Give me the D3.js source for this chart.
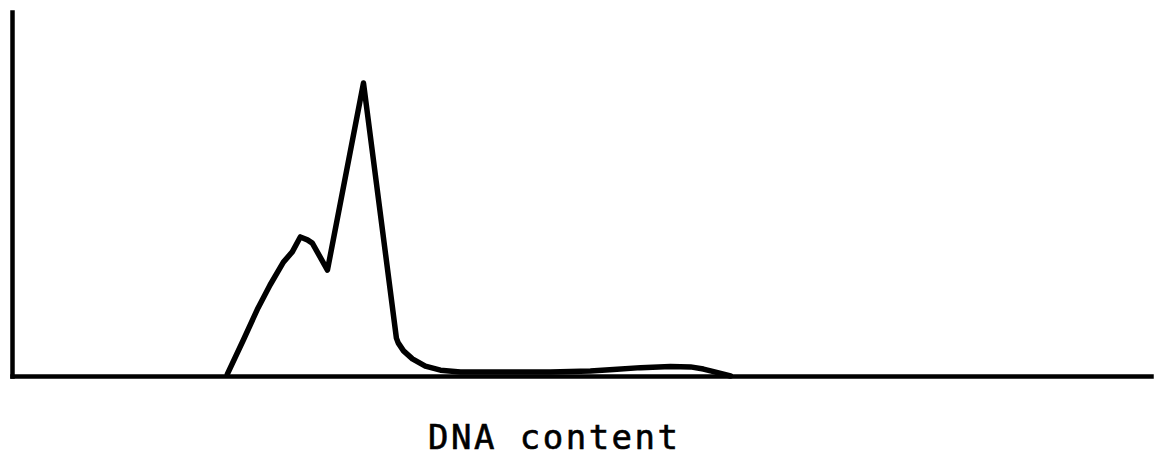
<!DOCTYPE html>
<html>
<head>
<meta charset="utf-8">
<script src="https://cdn.jsdelivr.net/npm/d3@7"></script>
<style>
  html, body { margin: 0; padding: 0; background: #fff; }
  svg { display: block; }
</style>
</head>
<body>
<svg id="chart" width="1162" height="464"></svg>
<script>
// DNA histogram: channel (x) vs relative cell count (y)
const channels = [48.4, 52.0, 55.3, 58.0, 61.0, 63.0, 64.8, 66.4, 67.5, 70.9, 79.0, 86.4, 86.8, 88.0, 90.0, 92.9, 96.3, 100.8, 109.8, 121.0, 130.0, 135.2, 141.3, 148.0, 152.5, 155.4, 157.7, 161.5];
const counts   = [0.5, 9.9, 18.7, 25.0, 31.3, 34.1, 38.2, 37.4, 36.5, 29.1, 80.5, 10.4, 9.1, 6.9, 4.7, 2.7, 1.6, 1.1, 1.1, 1.1, 1.4, 1.8, 2.3, 2.6, 2.5, 1.9, 1.2, 0.0];
const xDomain = [0, 256];
const yDomain = [0, 100];
const xLabel = "DNA content";

const svg = d3.select("#chart");
const x = d3.scaleLinear().domain(xDomain).range([12, 1151]);
const y = d3.scaleLinear().domain(yDomain).range([376, 12]);

// Axes (lines only, no ticks)
const yAxis = svg.append("g")
  .attr("transform", "translate(12,0)")
  .call(d3.axisLeft(y).tickValues([]).tickSizeOuter(0));
const xAxis = svg.append("g")
  .attr("transform", "translate(0,376)")
  .call(d3.axisBottom(x).tickValues([]).tickSizeOuter(0));
[yAxis, xAxis].forEach(g => g.select(".domain")
  .attr("stroke", "#000")
  .attr("stroke-width", 4.5)
  .attr("stroke-linecap", "square"));

const data = channels.map((c, i) => ({ c, n: counts[i] }));
const line = d3.line()
  .x(d => x(d.c))
  .y(d => y(d.n))
  .curve(d3.curveLinear);

svg.append("path")
  .datum(data)
  .attr("d", line)
  .attr("fill", "none")
  .attr("stroke", "#000")
  .attr("stroke-width", 5.5)
  .attr("stroke-linejoin", "round")
  .attr("stroke-linecap", "round");

svg.append("g")
  .attr("transform", "translate(0,449) scale(1,1.0)")
  .append("text")
  .attr("x", 553)
  .attr("y", 0)
  .attr("text-anchor", "middle")
  .attr("font-family", "DejaVu Sans Mono")
  .attr("font-size", 34)
  .attr("textLength", 250)
  .attr("lengthAdjust", "spacing")
  .attr("fill", "#000")
  .attr("stroke", "#000")
  .attr("stroke-width", 0.6)
  .text(xLabel);
</script>
</body>
</html>
